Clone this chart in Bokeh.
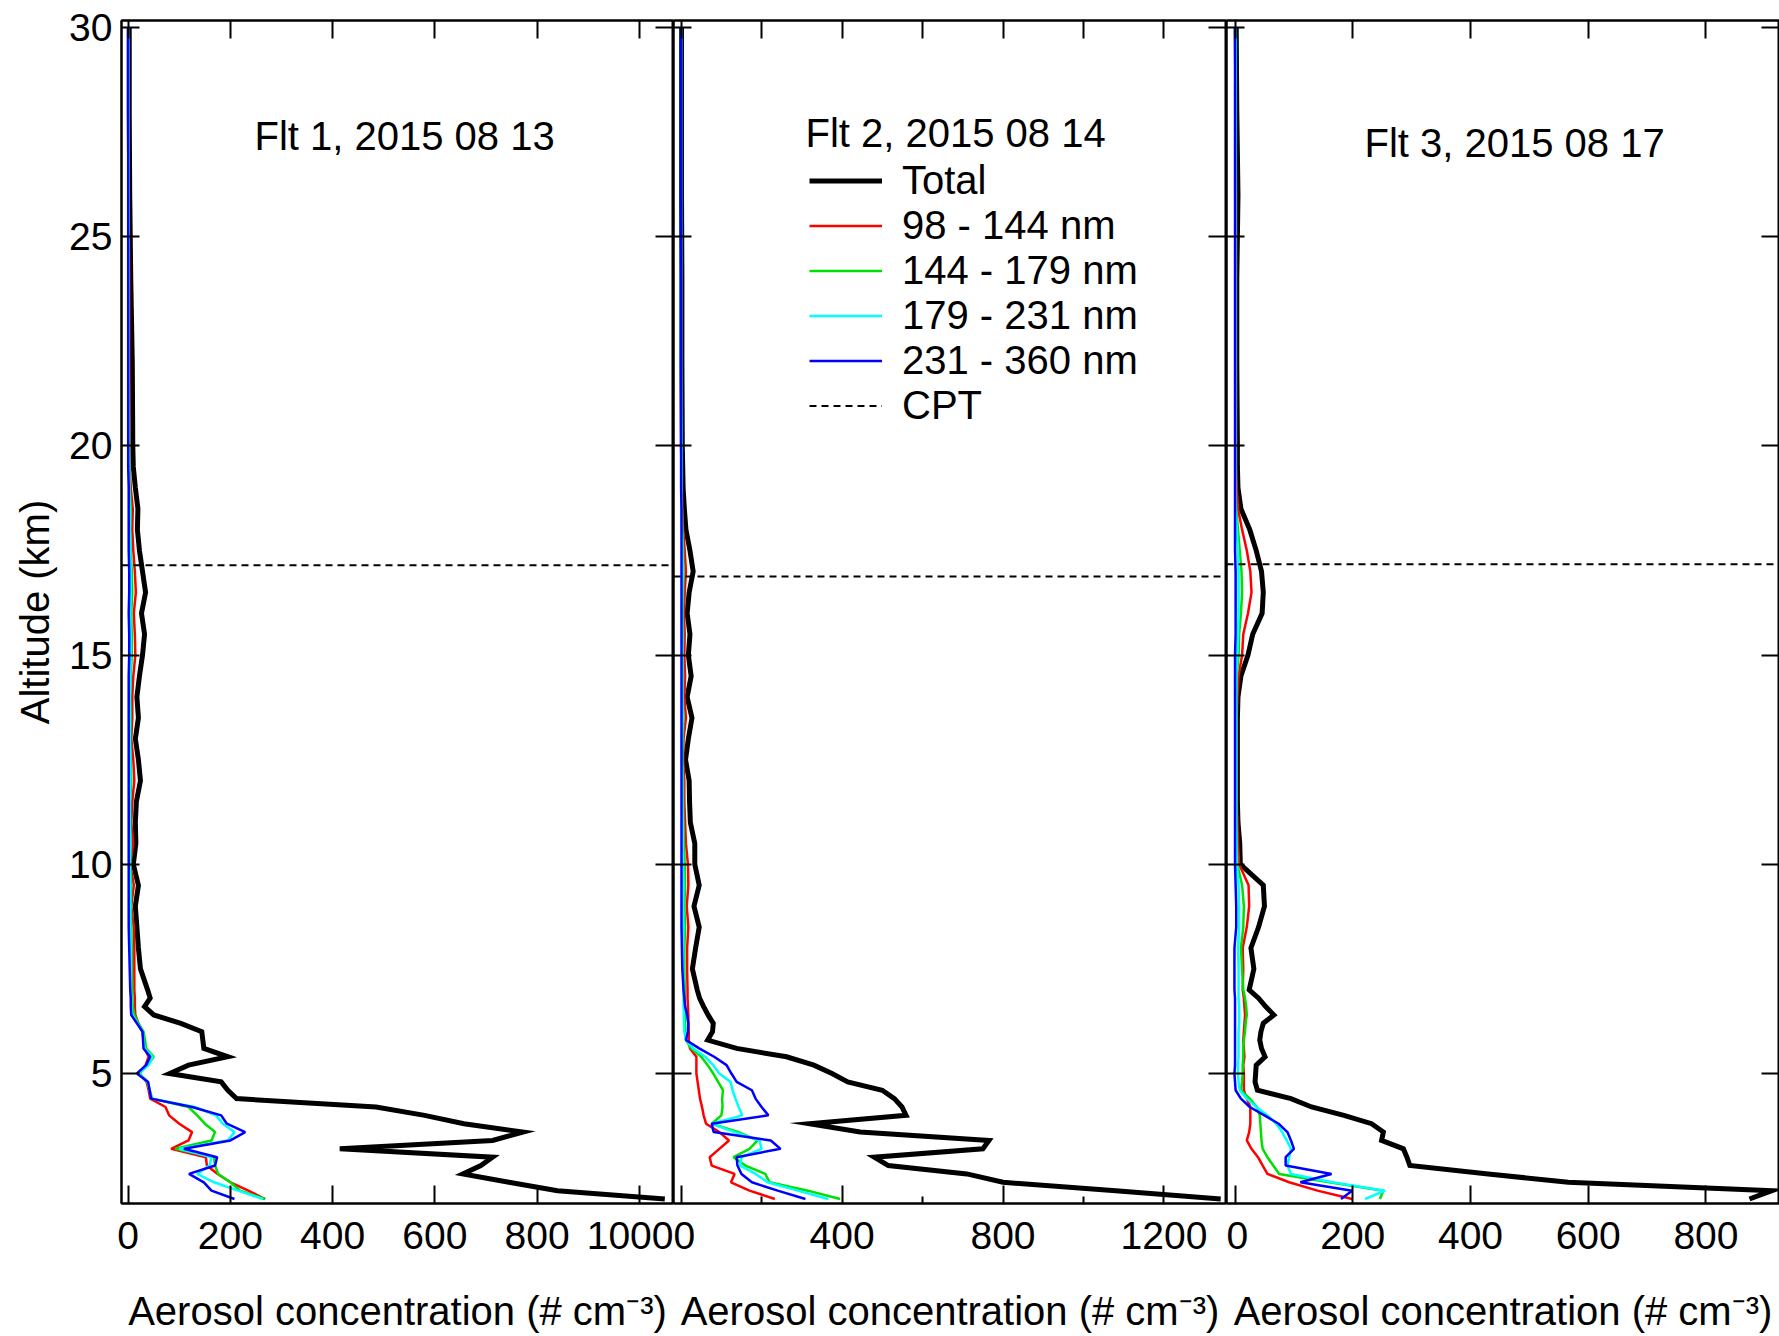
from bokeh.plotting import figure
from bokeh.layouts import row
from bokeh.models import Range1d, LinearAxis, FixedTicker, Label, Legend, LegendItem
from bokeh.embed import file_html
from bokeh.resources import INLINE

# ---------------- data ----------------
ALT = [2.0, 2.2, 2.4, 2.6, 2.8, 3.0, 3.2, 3.4, 3.6, 3.8, 4.0, 4.2, 4.4, 4.6, 4.8,
       5.0, 5.2, 5.4, 5.6, 5.8, 6.0, 6.2, 6.4, 6.6, 6.8, 7.0,
       7.5, 8.0, 8.5, 9.0, 9.5, 10.0, 10.5, 11.0, 11.5, 12.0, 12.5, 13.0, 13.5,
       14.0, 14.5, 15.0, 15.5, 16.0, 16.5, 17.0, 17.5, 18.0, 18.5, 19.0, 19.5, 20.0,
       22.0, 24.0, 26.0, 28.0, 30.0]

BIN_LABELS = ["98 - 144 nm", "144 - 179 nm", "179 - 231 nm", "231 - 360 nm"]
BIN_COLORS = ["#ff0000", "#00e000", "#00ffff", "#0000ff"]
FLIGHTS = ["Flt 1, 2015 08 13", "Flt 2, 2015 08 14", "Flt 3, 2015 08 17"]
CPT = [17.15, 16.88, 17.17]

# Flight 1
F1_TOTAL = [1050, 840, 745, 655, 690, 713, 414, 713, 773, 657, 580, 485, 212, 195, 182,
            81, 118, 195, 148, 146, 144, 103, 50, 32, 43, 38,
            24, 20, 17, 14, 20, 10, 15, 14, 16, 24, 20, 14, 20,
            17, 22, 28, 32, 26, 34, 28, 22, 18, 19, 14, 10, 9,
            8, 5, 3, 2, 2]
F1_B1 = [268, 235, 200, 175, 154, 152, 84, 118, 125, 100, 80, 73, 43, 40, 36,
         22, 34, 40, 32, 30, 28, 20, 14, 13, 13, 12,
         12, 12, 11, 6, 11, 4, 10, 6, 8, 12, 10, 6, 8,
         8, 10, 14, 13, 11, 15, 13, 10, 8, 9, 5, 3, 3,
         2, 2, 1, 1, 1]
F1_B2 = [268, 219, 200, 176, 170, 168, 92, 163, 170, 150, 135, 118, 47, 42, 38,
         22, 38, 50, 35, 33, 30, 20, 12, 9, 8, 8,
         7, 7, 6, 5, 6, 4, 5, 4, 4, 6, 5, 4, 5,
         4, 5, 7, 7, 6, 8, 7, 5, 4, 5, 3, 2, 2,
         1, 1, 1, 1, 1]
F1_B3 = [264, 215, 168, 135, 159, 163, 100, 195, 208, 185, 172, 130, 46, 42, 38,
         20, 40, 48, 32, 30, 28, 18, 8, 6, 6, 5,
         5, 5, 4, 4, 4, 3, 4, 3, 3, 4, 4, 3, 3,
         3, 4, 5, 5, 4, 5, 5, 4, 3, 3, 2, 2, 1,
         1, 1, 1, 1, 1]
F1_B4 = [208, 163, 148, 119, 170, 174, 109, 200, 229, 193, 182, 125, 45, 42, 39,
         17, 35, 43, 30, 29, 28, 17, 6, 5, 5, 4,
         3, 2, 1, 1, 1, 1, 1, 1, 1, 1, 1, 1, 1,
         1, 1, 2, 2, 1, 2, 2, 1, 1, 1, 1, 0, 0,
         0, 0, 0, 0, 0]

# Flight 2
F2_TOTAL = [1341, 1080, 800, 710, 515, 480, 750, 765, 445, 319, 559, 549, 530, 500, 414,
            375, 330, 262, 138, 66, 78, 80, 67, 56, 46, 40,
            28, 36, 45, 32, 45, 34, 34, 23, 21, 20, 11, 18, 27,
            15, 25, 18, 22, 15, 20, 30, 22, 12, 8, 5, 4, 3,
            2, 2, 1, 1, 1]
F2_B1 = [233, 170, 124, 133, 76, 71, 95, 119, 95, 62, 56, 52, 47, 44, 41,
         38, 38, 38, 22, 19, 19, 18, 18, 17, 16, 16,
         15, 15, 18, 14, 18, 17, 12, 10, 8, 8, 5, 6, 12,
         8, 10, 8, 9, 7, 9, 12, 9, 5, 3, 2, 2, 1,
         1, 1, 0, 0, 0]
F2_B2 = [395, 315, 220, 209, 160, 130, 170, 190, 143, 76, 100, 103, 102, 104, 92,
         80, 66, 50, 25, 12, 10, 10, 10, 9, 9, 9,
         8, 8, 10, 8, 10, 9, 7, 6, 5, 5, 3, 4, 6,
         4, 5, 4, 5, 4, 5, 6, 5, 3, 2, 1, 1, 1,
         0, 0, 0, 0, 0]
F2_B3 = [366, 290, 215, 185, 147, 150, 200, 195, 133, 76, 152, 143, 135, 128, 123,
         95, 80, 60, 30, 12, 8, 7, 7, 6, 6, 6,
         5, 5, 6, 5, 6, 5, 4, 4, 3, 3, 2, 2, 4,
         3, 3, 3, 3, 2, 3, 4, 3, 2, 1, 1, 1, 1,
         0, 0, 0, 0, 0]
F2_B4 = [309, 240, 176, 150, 140, 138, 247, 223, 81, 76, 217, 200, 185, 176, 138,
         125, 113, 82, 45, 12, 17, 18, 15, 10, 8, 6,
         3, 2, 1, 1, 1, 1, 1, 1, 1, 1, 1, 1, 1,
         1, 1, 1, 1, 1, 1, 1, 1, 1, 1, 0, 0, 0,
         0, 0, 0, 0, 0]

# Flight 3
F3_TOTAL = [874, 912, 566, 430, 297, 292, 286, 249, 252, 232, 185, 130, 95, 38, 34,
            35, 36, 51, 45, 42, 44, 48, 66, 52, 40, 24,
            32, 27, 40, 50, 48, 9, 8, 5, 4, 4, 4, 4, 4,
            5, 10, 22, 30, 46, 48, 45, 36, 25, 10, 5, 4, 4,
            3, 3, 5, 3, 2]
F3_B1 = [199, 140, 92, 55, 47, 39, 28, 20, 24, 26, 26, 26, 20, 15, 15,
         15, 14, 16, 15, 14, 15, 16, 17, 16, 15, 13,
         14, 13, 20, 24, 23, 7, 5, 4, 3, 3, 3, 3, 3,
         4, 6, 12, 14, 22, 28, 26, 20, 12, 5, 3, 2, 2,
         2, 2, 2, 1, 1]
F3_B2 = [246, 252, 160, 75, 65, 55, 47, 45, 44, 43, 42, 37, 25, 10, 12,
         13, 13, 14, 14, 15, 17, 18, 20, 19, 17, 14,
         12, 10, 14, 15, 12, 4, 3, 2, 2, 2, 2, 2, 2,
         2, 3, 6, 7, 10, 12, 11, 8, 5, 2, 1, 1, 1,
         1, 1, 1, 1, 1]
F3_B3 = [221, 255, 165, 95, 89, 92, 95, 88, 80, 70, 55, 36, 20, 8, 6,
         5, 5, 6, 6, 6, 6, 7, 7, 7, 6, 6,
         6, 5, 7, 7, 6, 3, 2, 2, 2, 2, 2, 2, 2,
         2, 2, 4, 5, 6, 6, 6, 5, 3, 1, 1, 1, 1,
         1, 1, 1, 1, 1]
F3_B4 = [180, 199, 111, 164, 86, 86, 100, 95, 89, 74, 50, 25, 10, 1, 0,
         -1, 0, 0, 0, 0, 0, 0, 0, 0, 0, -1,
         -1, -1, 2, 2, 1, 0, 0, 0, 0, 0, 0, 0, 0,
         0, 0, 0, 1, 1, 1, 1, 0, 0, 0, 0, 0, 0,
         0, 0, 0, 0, 0]

X_RANGES = [(-13.1, 1067.0), (-18.9, 1355.4), (-14.5, 925.0)]
X_TICKS = [[0, 200, 400, 600, 800, 1000], [0, 400, 800, 1200], [0, 200, 400, 600, 800]]
X_MINOR = [[], [200, 600, 1000], []]
X_TOP_TICKS = [[0, 200, 400, 600, 800, 1000], [0, 200, 400, 600, 800, 1000, 1200],
               [0, 200, 400, 600, 800]]
Y_TICKS = [5, 10, 15, 20, 25, 30]
Y_RANGE = (1.893, 30.17)
X_TITLE = "Aerosol concentration (# cm\u207b\u00b3)"

SERIES = [
    (F1_TOTAL, [F1_B1, F1_B2, F1_B3, F1_B4]),
    (F2_TOTAL, [F2_B1, F2_B2, F2_B3, F2_B4]),
    (F3_TOTAL, [F3_B1, F3_B2, F3_B3, F3_B4]),
]

# ---------------- layout ----------------
FONT = "Liberation Sans"
TOP = 20
FRAME_H = 1183
H = 1336
BOTTOM = H - TOP - FRAME_H
FRAME_W = [552, 553, 553]
LEFT = [121, 0, 0]
FLT_POS = [(133, 27.40), (132, 27.47), (138, 27.25)]


def style_axis(ax, labels):
    ax.major_tick_in = 18
    ax.major_tick_out = 0
    ax.minor_tick_in = 7
    ax.minor_tick_out = 0
    ax.major_tick_line_width = 2
    ax.minor_tick_line_width = 2
    ax.major_tick_line_color = "black"
    ax.minor_tick_line_color = "black"
    ax.axis_line_width = 2
    ax.axis_line_color = "black"
    if labels:
        ax.major_label_text_font = FONT
        ax.major_label_text_font_size = "39px"
        ax.major_label_text_color = "black"
    else:
        ax.major_label_text_color = None
        ax.major_label_text_font_size = "0px"
        ax.major_label_standoff = 0


panels = []
for i in range(3):
    xr = X_RANGES[i]
    p = figure(width=LEFT[i] + FRAME_W[i], height=H,
               x_range=Range1d(*xr), y_range=Range1d(*Y_RANGE),
               output_backend="svg", toolbar_location=None,
               x_axis_location=None, y_axis_location=None,
               min_border_left=LEFT[i], min_border_right=0,
               min_border_top=TOP, min_border_bottom=BOTTOM)
    p.xgrid.visible = False
    p.ygrid.visible = False
    p.outline_line_color = "black"
    p.outline_line_width = 2
    p.background_fill_color = "white"
    p.border_fill_color = "white"

    # axes with inward ticks on all four sides
    left = LinearAxis(ticker=FixedTicker(ticks=Y_TICKS))
    style_axis(left, labels=(i == 0))
    if i == 0:
        left.major_label_standoff = 9
        left.axis_label = "Altitude (km)"
        left.axis_label_text_font = FONT
        left.axis_label_text_font_size = "40px"
        left.axis_label_text_font_style = "normal"
        left.axis_label_text_color = "black"
        left.axis_label_standoff = 9
    p.add_layout(left, "left")

    right = LinearAxis(ticker=FixedTicker(ticks=Y_TICKS))
    style_axis(right, labels=False)
    p.add_layout(right, "right")

    below = LinearAxis(ticker=FixedTicker(ticks=X_TICKS[i], minor_ticks=X_MINOR[i]))
    style_axis(below, labels=True)
    below.major_label_standoff = 18
    below.axis_label = X_TITLE
    below.axis_label_text_font = FONT
    below.axis_label_text_font_size = "40px"
    below.axis_label_text_font_style = "normal"
    below.axis_label_text_color = "black"
    below.axis_label_standoff = 37
    p.add_layout(below, "below")

    above = LinearAxis(ticker=FixedTicker(ticks=X_TOP_TICKS[i]))
    style_axis(above, labels=False)
    p.add_layout(above, "above")

    total, bins = SERIES[i]
    r_total = p.line(total, ALT, line_color="black", line_width=5, line_join="miter")
    r_bins = []
    for vals, col in zip(bins, BIN_COLORS):
        r_bins.append(p.line(vals, ALT, line_color=col, line_width=2.5))

    # cold point tropopause
    r_cpt = p.line(list(xr), [CPT[i], CPT[i]], line_color="black", line_width=2,
                   line_dash="7 5")

    px_per_unit = FRAME_W[i] / (xr[1] - xr[0])

    # flight label
    fx, fy = FLT_POS[i]
    p.add_layout(Label(x=xr[0] + fx / px_per_unit, y=fy, text=FLIGHTS[i],
                       text_font=FONT, text_font_size="40px", text_color="black",
                       text_align="left", text_baseline="middle"))

    if i == 1:
        items = [LegendItem(label="Total", renderers=[r_total])]
        for lab, r in zip(BIN_LABELS, r_bins):
            items.append(LegendItem(label=lab, renderers=[r]))
        items.append(LegendItem(label="CPT", renderers=[r_cpt]))
        leg = Legend(items=items, location=(136, 775), orientation="vertical",
                     glyph_width=73, glyph_height=45, label_height=45,
                     label_standoff=20, spacing=0, padding=0, margin=0,
                     border_line_color=None, background_fill_alpha=0,
                     label_text_font=FONT, label_text_font_size="40px",
                     label_text_color="black")
        p.add_layout(leg, "center")

    panels.append(p)

layout = row(*panels, spacing=0)
open("out.html", "w").write(file_html(layout, INLINE))
